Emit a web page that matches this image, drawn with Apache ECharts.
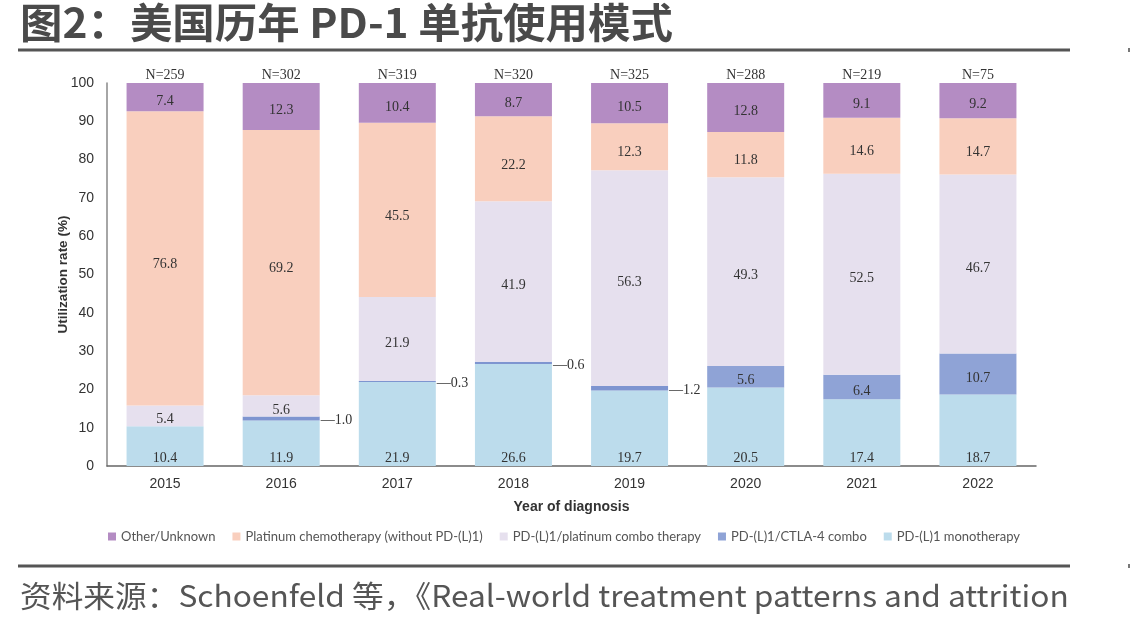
<!DOCTYPE html>
<html><head><meta charset="utf-8">
<script src="https://cdn.jsdelivr.net/npm/echarts@6/dist/echarts.min.js"></script>
<style>html,body{margin:0;padding:0;background:#fff}#c{width:1131px;height:627px}</style>
</head><body><div id="c"></div>
<script>
const years = ['2015','2016','2017','2018','2019','2020','2021','2022'];
const nLabels = ['N=259','N=302','N=319','N=320','N=325','N=288','N=219','N=75'];
const other = [7.4, 12.3, 10.4, 8.7, 10.5, 12.8, 9.1, 9.2];
const platinum = [76.8, 69.2, 45.5, 22.2, 12.3, 11.8, 14.6, 14.7];
const combo = [5.4, 5.6, 21.9, 41.9, 56.3, 49.3, 52.5, 46.7];
const ctla = [0, 1.0, 0.3, 0.6, 1.2, 5.6, 6.4, 10.7];
const mono = [10.4, 11.9, 21.9, 26.6, 19.7, 20.5, 17.4, 18.7];
const seriesNames = ['Other/Unknown', 'Platinum chemotherapy (without PD-(L)1)', 'PD-(L)1/platinum combo therapy', 'PD-(L)1/CTLA-4 combo', 'PD-(L)1 monotherapy'];
const titleText = '图2：美国历年 PD-1 单抗使用模式';
const sourceText = '资料来源：Schoenfeld 等，《Real-world treatment patterns and attrition';

const colors = {
  other: '#B48CC3', platinum: '#F9CFBE', combo: '#E6E0EE', ctla: '#8FA3D6', mono: '#BCDCEC'
};
const serif = '"Liberation Serif", "Times New Roman", serif';
const fmt = p => (p.value === 0 ? '' : Number(p.value).toFixed(1));
const inLabel = {show: true, position: 'inside', offset: [0, 4], fontFamily: serif, fontSize: 14, color: '#333', formatter: fmt};

const chart = echarts.init(document.getElementById('c'), null, {renderer: 'canvas'});
chart.setOption({
  animation: false,
  backgroundColor: '#fff',
  graphic: [
    {type: 'text', x: 20, y: 2, scaleX: 1.035, style: {text: titleText, fontFamily: '"Noto Sans CJK SC"', fontWeight: 'bold', fontSize: 41, fill: '#4a4a4a'}},
    {type: 'rect', shape: {x: 18, y: 48.5, width: 1052, height: 3}, style: {fill: '#555'}},
    {type: 'rect', shape: {x: 1128, y: 48, width: 2, height: 4}, style: {fill: '#777'}},
    {type: 'rect', shape: {x: 18, y: 564.5, width: 1052, height: 3}, style: {fill: '#555'}},
    {type: 'rect', shape: {x: 1128, y: 564, width: 2, height: 4}, style: {fill: '#777'}},
    {type: 'text', x: 20, y: 581, scaleX: 1.056, style: {text: sourceText, fontFamily: '"Noto Sans CJK SC"', fontSize: 30, fill: '#555'}}
  ],
  legend: {
    data: seriesNames, left: 103, top: 525, icon: 'rect', itemWidth: 8, itemHeight: 8, itemGap: 17,
    textStyle: {fontFamily: 'Lato', fontSize: 13, color: '#555'}
  },
  grid: {left: 107, right: 95, top: 83, bottom: 161},
  xAxis: [
    {type: 'category', data: years, position: 'bottom',
      axisLine: {lineStyle: {color: '#666', width: 1.5}}, axisTick: {show: false},
      axisLabel: {fontFamily: 'Arial, "Liberation Sans"', fontSize: 14, color: '#333', margin: 11},
      name: 'Year of diagnosis', nameLocation: 'middle', nameGap: 34,
      nameTextStyle: {fontFamily: 'Arial, "Liberation Sans"', fontWeight: 'bold', fontSize: 14, color: '#333'}},
    {type: 'category', data: nLabels, position: 'top',
      axisLine: {show: false}, axisTick: {show: false},
      axisLabel: {fontFamily: serif, fontSize: 14, color: '#333', margin: 1}}
  ],
  yAxis: {type: 'value', min: 0, max: 100, interval: 10,
    axisLine: {show: true, lineStyle: {color: '#888', width: 1.5}}, axisTick: {show: false}, splitLine: {show: false},
    axisLabel: {fontFamily: 'Arial, "Liberation Sans"', fontSize: 14, color: '#333', margin: 13},
    name: 'Utilization rate (%)', nameLocation: 'middle', nameGap: 37, nameMoveOverlap: false,
    nameTextStyle: {fontFamily: 'Arial, "Liberation Sans"', fontWeight: 'bold', fontSize: 13.5, color: '#333'}},
  series: [
    {name: seriesNames[4], type: 'bar', stack: 's', barWidth: 77, data: mono, itemStyle: {color: colors.mono},
      label: {show: true, position: 'insideBottom', distance: 1, fontFamily: serif, fontSize: 14, color: '#333', formatter: fmt}},
    {name: seriesNames[3], type: 'bar', stack: 's', barWidth: 77, itemStyle: {color: colors.ctla},
      data: ctla.map(v => (v > 0 && v < 2) ? {value: v, itemStyle: {color: '#7E95D0'}, label: {position: 'right', distance: 1, offset: [0, 2], formatter: p => '—' + Number(p.value).toFixed(1)}} : v),
      label: inLabel},
    {name: seriesNames[2], type: 'bar', stack: 's', barWidth: 77, data: combo, itemStyle: {color: colors.combo}, label: inLabel},
    {name: seriesNames[1], type: 'bar', stack: 's', barWidth: 77, data: platinum, itemStyle: {color: colors.platinum}, label: Object.assign({}, inLabel, {offset: [0, 6]})},
    {name: seriesNames[0], type: 'bar', stack: 's', barWidth: 77, data: other, itemStyle: {color: colors.other}, label: inLabel}
  ]
});
</script></body></html>
